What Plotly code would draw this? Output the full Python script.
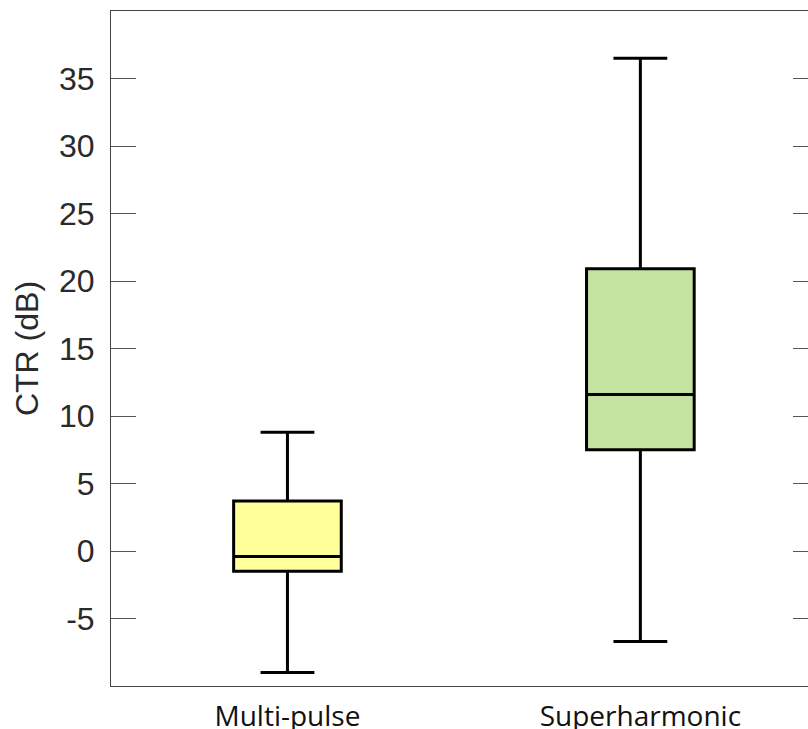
import plotly.graph_objects as go

# Contrast-to-tissue ratio summary statistics per imaging method
methods = ["Multi-pulse", "Superharmonic"]
lower_whisker = [-9.0, -6.7]
q1_values = [-1.5, 7.5]
medians = [-0.4, 11.6]
q3_values = [3.7, 20.9]
upper_whisker = [8.8, 36.5]
fill_colors = ["#FFFF99", "#C5E3A0"]

y_tick_values = [-5, 0, 5, 10, 15, 20, 25, 30, 35]
y_tick_labels = ["-5", "0", "5", "10", "15", "20", "25", "30", "35"]

fig = go.Figure()
for i, name in enumerate(methods):
    fig.add_trace(go.Box(
        x=[name],
        q1=[q1_values[i]],
        median=[medians[i]],
        q3=[q3_values[i]],
        lowerfence=[lower_whisker[i]],
        upperfence=[upper_whisker[i]],
        fillcolor=fill_colors[i],
        line=dict(color="black", width=3),
        width=0.305,
        whiskerwidth=0.5,
        boxpoints=False,
        showlegend=False,
        hoverinfo="skip",
    ))

# Empty trace so the right-hand tick axis is rendered
fig.add_trace(go.Scatter(x=[], y=[], yaxis="y2", showlegend=False))

fig.update_layout(
    width=808,
    height=729,
    margin=dict(l=111, r=0, t=11, b=43),
    paper_bgcolor="white",
    plot_bgcolor="white",
    font=dict(family="Liberation Sans, Arial, sans-serif", color="#222222"),
    xaxis=dict(
        type="category",
        range=[-0.5, 1.475],
        automargin=False,
        showgrid=False,
        zeroline=False,
        showline=True,
        linecolor="#444444",
        linewidth=1,
        mirror=True,
        ticks="",
        ticklabelstandoff=5,
        tickfont=dict(family="Open Sans, Noto Sans, sans-serif", size=28, color="#111111"),
    ),
    yaxis=dict(
        range=[-10, 40],
        automargin=False,
        tickvals=y_tick_values,
        ticktext=y_tick_labels,
        showgrid=False,
        zeroline=False,
        showline=True,
        linecolor="#444444",
        linewidth=1,
        ticks="inside",
        ticklen=25,
        tickwidth=1,
        tickcolor="#555555",
        ticklabelstandoff=9,
        tickfont=dict(size=32, color="#2a2a2a"),
        title=dict(text="CTR (dB)", font=dict(size=32, color="#2a2a2a"), standoff=10),
    ),
    yaxis2=dict(
        overlaying="y",
        side="right",
        anchor="free",
        position=1,
        range=[-10, 40],
        automargin=False,
        tickvals=y_tick_values,
        showticklabels=False,
        showgrid=False,
        zeroline=False,
        showline=False,
        ticks="inside",
        ticklen=15,
        tickwidth=1,
        tickcolor="#555555",
    ),
)

fig.write_html("out.html")
